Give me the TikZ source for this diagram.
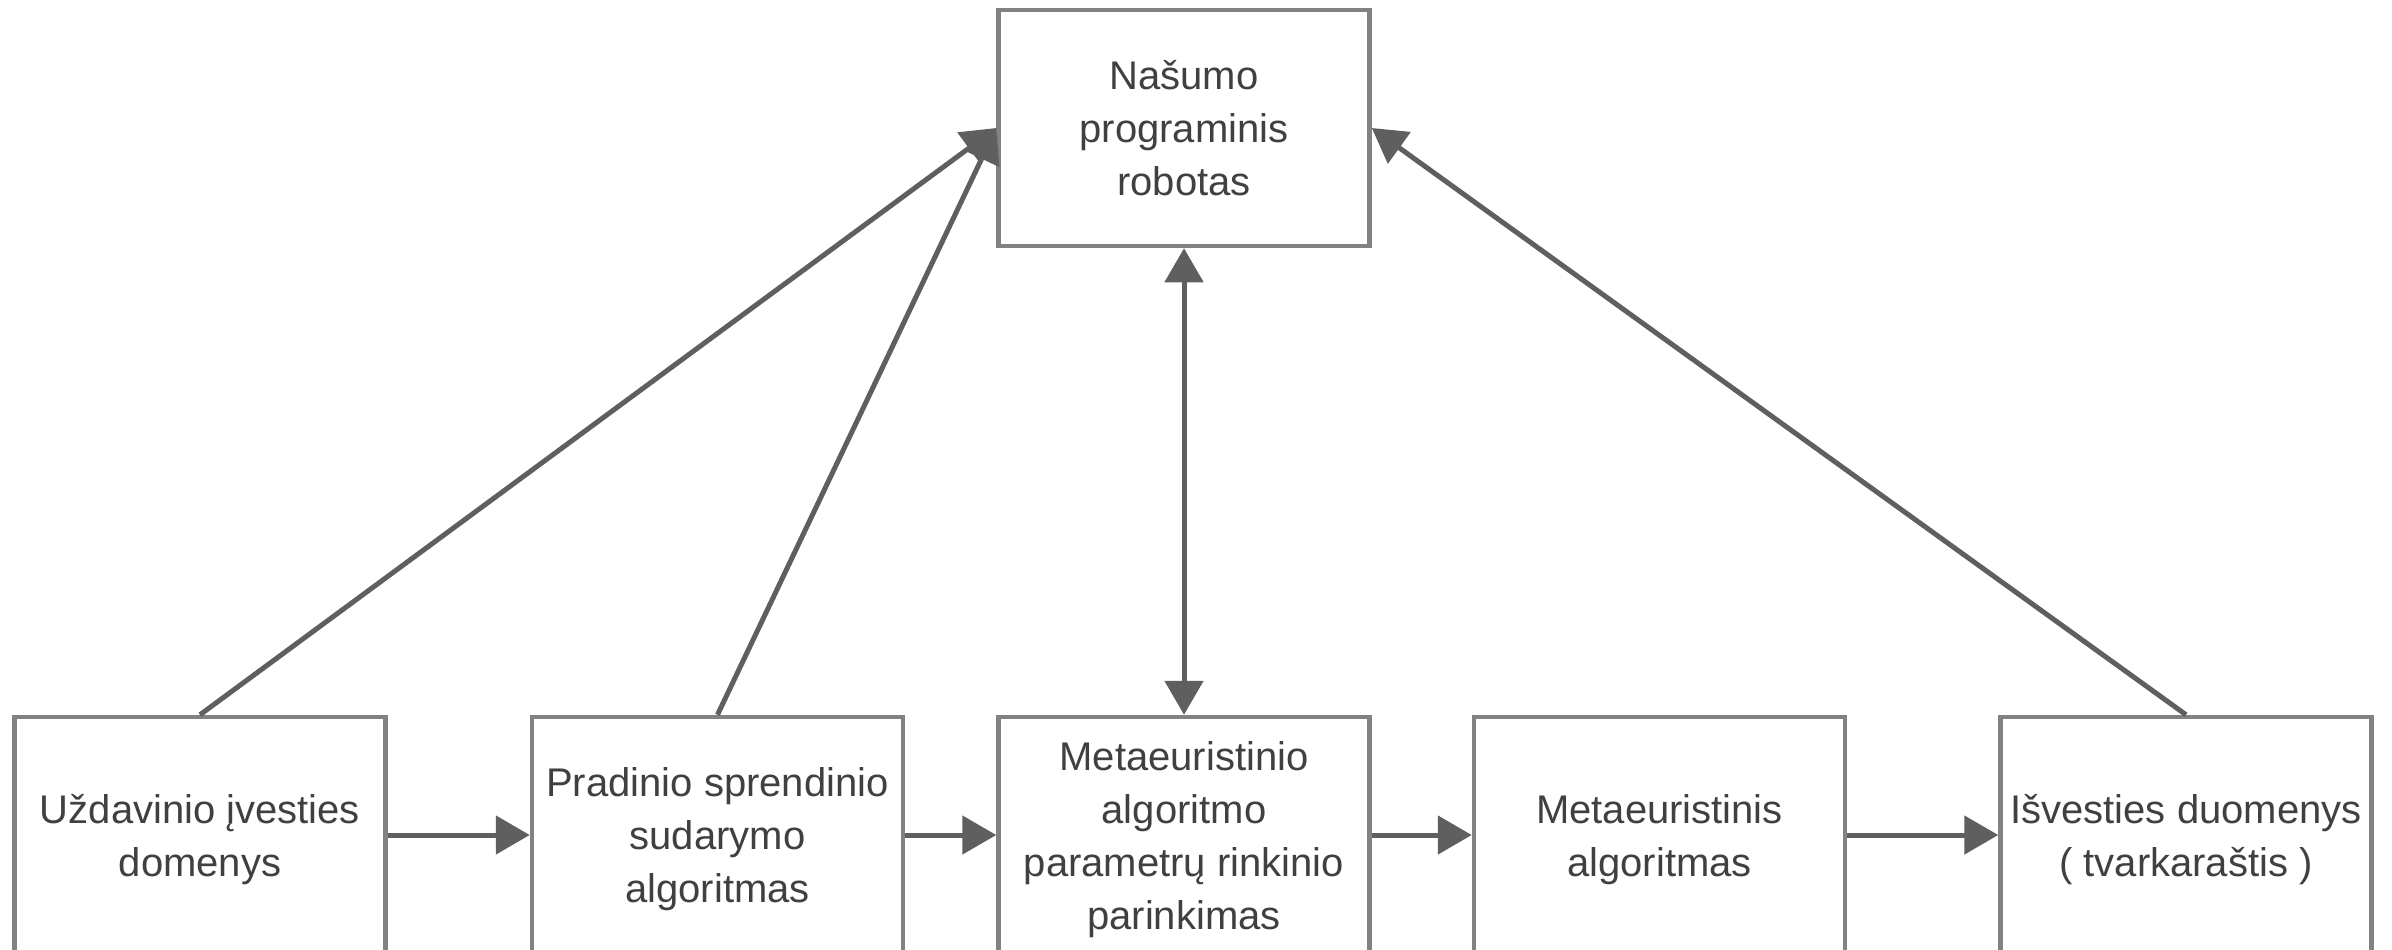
\documentclass[tikz,border=0pt]{standalone}
\usepackage{fontspec}
\setmainfont{Liberation Sans}
\usetikzlibrary{arrows.meta}
\definecolor{boxgray}{RGB}{130,130,130}
\definecolor{arrowgray}{RGB}{95,95,95}
\definecolor{textgray}{RGB}{64,64,64}
\newcommand\lne[1]{\smash{#1}\rule[-6pt]{0pt}{26.5pt}}
\tikzset{
  blk/.style={draw=boxgray, line width=2.25pt, fill=white,
    minimum width=185.5pt, minimum height=118pt, align=center,
    text=textgray, font=\fontsize{20}{26.5}\selectfont, inner sep=0pt},
  conn/.style={draw=arrowgray, line width=2.5pt,
    -{Triangle[length=17pt,width=19pt]}},
  dconn/.style={draw=arrowgray, line width=2.5pt,
    {Triangle[length=17pt,width=19pt]}-{Triangle[length=17pt,width=19pt]}},
}
\begin{document}
\begin{tikzpicture}[x=0.5pt,y=-0.5pt]
\useasboundingbox (0,0) rectangle (2392,949);
\clip (0,0) rectangle (2392,949);
\node[blk] (top) at (1184,128) {\lne{Našumo}\\\lne{programinis}\\\lne{robotas}};
\node[blk] (b1) at (200,835) {\lne{Uždavinio įvesties}\\\lne{domenys}};
\node[blk] (b2) at (717.5,835) {\lne{Pradinio sprendinio}\\\lne{sudarymo}\\\lne{algoritmas}};
\node[blk] (b3) at (1184,835) {\lne{Metaeuristinio}\\\lne{algoritmo}\\\lne{parametrų rinkinio}\\\lne{parinkimas}};
\node[blk] (b4) at (1659.5,835) {\lne{Metaeuristinis}\\\lne{algoritmas}};
\node[blk] (b5) at (2186,835) {\lne{Išvesties duomenys}\\\lne{( tvarkaraštis )}};
\draw[conn] (b1.east) -- (b2.west);
\draw[conn] (b2.east) -- (b3.west);
\draw[conn] (b3.east) -- (b4.west);
\draw[conn] (b4.east) -- (b5.west);
\draw[conn] (b1.north) -- (top.west);
\draw[conn] (b2.north) -- (top.west);
\draw[conn] (b5.north) -- (top.east);
\draw[dconn] (top.south) -- (b3.north);
\end{tikzpicture}
\end{document}
